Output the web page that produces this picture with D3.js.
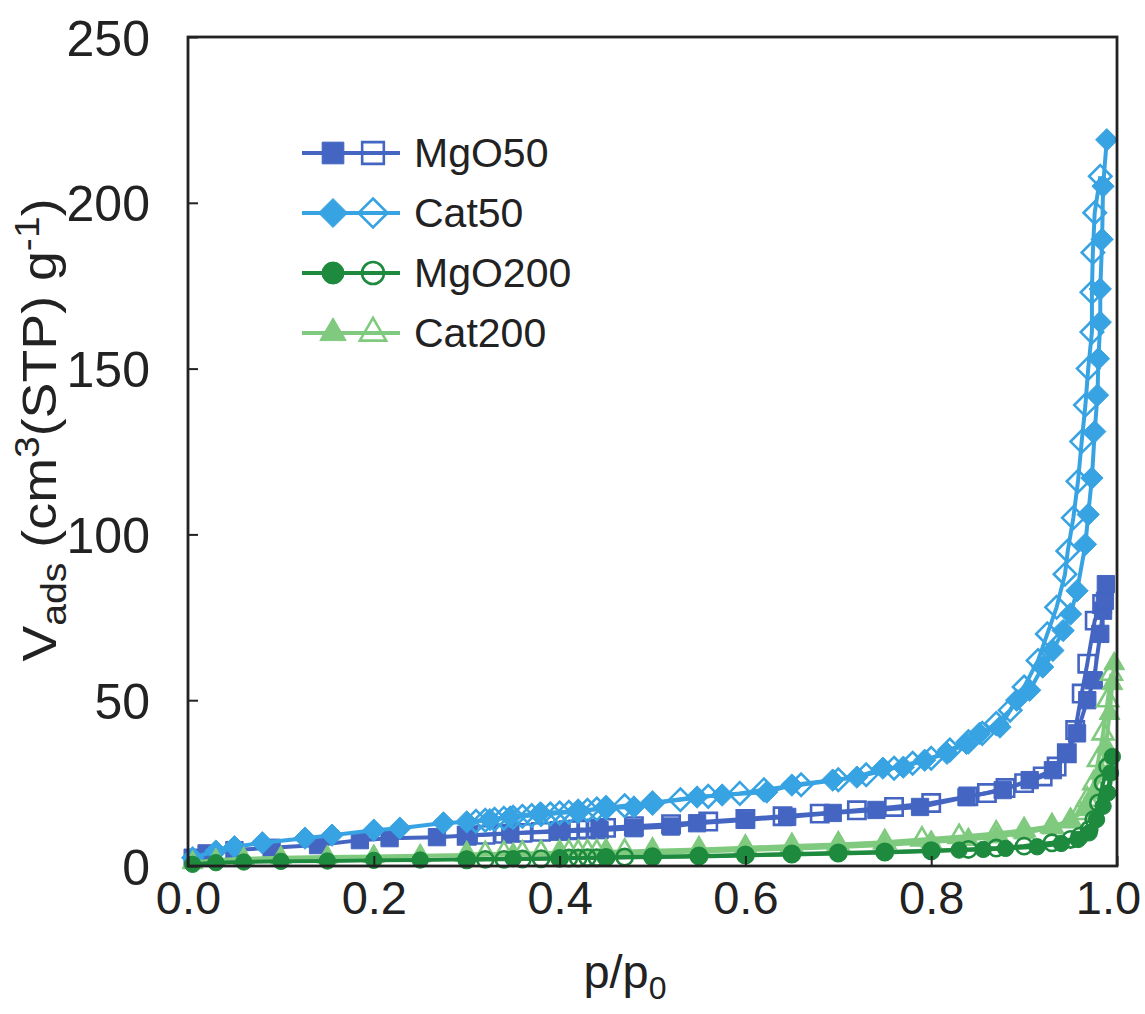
<!DOCTYPE html>
<html><head><meta charset="utf-8">
<script src="https://cdn.jsdelivr.net/npm/d3@7"></script>
<style>body{margin:0;background:#fff}svg{display:block}text{font-family:"Liberation Sans",Arial,sans-serif;fill:#222}</style>
</head><body>
<svg id="c" width="1145" height="1014"></svg>
<script>
// ---- data (p/p0, V_ads) ----
const xTicks = [0.0, 0.2, 0.4, 0.6, 0.8, 1.0];
const yTicks = [0, 50, 100, 150, 200, 250];
const seriesNames = ["MgO50", "Cat50", "MgO200", "Cat200"];

const mgo50Ads = [[0.005,2.5],[0.02,3.8],[0.05,4.8],[0.09,5.5],[0.14,6.3],[0.185,7.8],[0.217,8.4],[0.268,8.7],[0.3,9.2],[0.347,9.9],[0.4,10.4],[0.443,10.8],[0.48,11.4],[0.52,11.9],[0.548,12.9],[0.6,13.9],[0.645,14.8],[0.694,16],[0.741,16.9],[0.788,17.8],[0.838,20.8],[0.877,22.9],[0.906,25.9],[0.931,28.9],[0.946,34],[0.957,40],[0.968,50],[0.975,56],[0.982,70],[0.985,77],[0.987,80],[0.988,85]];
const mgo50Des = [[0.984,79],[0.976,74],[0.968,61],[0.962,52],[0.955,41],[0.946,34],[0.935,30],[0.92,27],[0.9,25],[0.88,23.5],[0.86,22],[0.84,21],[0.8,19],[0.76,17.8],[0.72,16.8],[0.68,15.8],[0.64,15],[0.6,14.2],[0.56,13.4],[0.52,12.6],[0.48,12],[0.45,11.5],[0.44,11.3],[0.43,11.1],[0.42,11],[0.41,10.8],[0.40,10.6],[0.38,10.3],[0.36,10],[0.34,9.7],[0.32,9.4],[0.30,9.1]];

const cat50Ads = [[0.005,2.5],[0.03,4.5],[0.05,5.8],[0.08,7.0],[0.126,8.4],[0.155,9.3],[0.2,10.8],[0.228,11.4],[0.275,13.0],[0.30,13.3],[0.325,14.0],[0.347,14.8],[0.379,16.0],[0.42,16.5],[0.45,17.5],[0.48,17.8],[0.5,19.0],[0.548,20.8],[0.575,21.4],[0.623,22.3],[0.65,24.4],[0.694,25.9],[0.72,26.8],[0.748,29.5],[0.77,29.8],[0.793,31.9],[0.817,34.0],[0.838,37.0],[0.852,40.0],[0.874,41.9],[0.892,50],[0.906,53],[0.92,60],[0.931,65],[0.942,71],[0.95,76],[0.957,83],[0.966,97],[0.969,106],[0.973,117],[0.976,131],[0.979,142],[0.980,153],[0.982,164],[0.982,174],[0.984,189],[0.985,205],[0.989,219]];
const cat50Des = [[0.982,208],[0.976,197],[0.974,185],[0.973,173],[0.973,161],[0.969,150],[0.966,139],[0.962,128],[0.958,116],[0.953,105],[0.947,95],[0.944,88],[0.935,78],[0.925,70],[0.915,62],[0.9,54],[0.885,47],[0.87,43],[0.855,40],[0.84,37.5],[0.82,35],[0.8,32.5],[0.78,31],[0.76,29.5],[0.73,27.5],[0.70,26],[0.66,24.5],[0.62,23],[0.594,21.9],[0.56,21],[0.53,20],[0.50,19],[0.47,18.2],[0.45,17.6],[0.44,17.2],[0.43,16.8],[0.42,16.5],[0.41,16.2],[0.40,16],[0.39,15.7],[0.38,15.5],[0.37,15.2],[0.36,15],[0.35,14.7],[0.34,14.4],[0.33,14.1],[0.32,13.8],[0.31,13.5]];

const mgo200Ads = [[0.005,0.5],[0.03,1.0],[0.06,1.2],[0.1,1.4],[0.15,1.5],[0.2,1.7],[0.25,1.8],[0.3,2.0],[0.35,2.2],[0.4,2.3],[0.45,2.5],[0.5,2.7],[0.55,2.9],[0.6,3.2],[0.65,3.5],[0.7,3.8],[0.75,4.1],[0.8,4.5],[0.83,4.8],[0.856,5.0],[0.88,5.3],[0.914,5.8],[0.94,6.8],[0.958,8],[0.97,10],[0.978,14],[0.985,18],[0.99,22],[0.993,28],[0.995,33]];
const mgo200Des = [[0.99,30],[0.985,25],[0.98,19],[0.975,14],[0.97,11],[0.96,9],[0.95,8],[0.93,7],[0.9,6],[0.87,5.4],[0.84,5],[0.8,4.6],[0.75,4.2],[0.7,3.9],[0.65,3.6],[0.6,3.3],[0.55,3.0],[0.5,2.8],[0.47,2.7],[0.45,2.6],[0.44,2.5],[0.43,2.5],[0.42,2.4],[0.41,2.4],[0.4,2.3],[0.38,2.2],[0.36,2.1],[0.34,2.0],[0.32,2.0],[0.3,1.9]];

const cat200Ads = [[0.005,1.0],[0.03,1.8],[0.06,2.2],[0.1,2.5],[0.15,2.7],[0.2,2.9],[0.25,3.1],[0.3,3.3],[0.35,3.5],[0.4,3.7],[0.45,3.8],[0.5,4.0],[0.55,4.4],[0.6,4.8],[0.65,5.2],[0.7,5.7],[0.75,6.3],[0.8,7.2],[0.84,8.0],[0.87,8.8],[0.9,10],[0.93,11.5],[0.95,14],[0.965,17],[0.975,22],[0.982,28],[0.988,36],[0.992,46],[0.995,55],[0.997,61]];
const cat200Des = [[0.994,58],[0.99,50],[0.985,40],[0.98,32],[0.975,25],[0.968,20],[0.96,16],[0.95,13.5],[0.93,12],[0.9,10.8],[0.87,9.8],[0.83,8.8],[0.79,8],[0.75,7.2],[0.7,6.5],[0.65,6],[0.6,5.5],[0.55,5],[0.5,4.6],[0.47,4.4],[0.45,4.3],[0.44,4.2],[0.43,4.2],[0.42,4.1],[0.41,4.1],[0.4,4.0],[0.38,3.9],[0.36,3.8],[0.34,3.7],[0.32,3.6],[0.3,3.5]];

// ---- layout ----
const svg = d3.select("#c");
const L = 188, R = 1117, T = 37, B = 866;
const x = d3.scaleLinear().domain([0, 1]).range([L, R]);
const y = d3.scaleLinear().domain([0, 250]).range([B, T]);

const diamond = {draw(ctx, size){ const h = Math.sqrt(size)/Math.SQRT2; ctx.moveTo(0,-h);ctx.lineTo(h,0);ctx.lineTo(0,h);ctx.lineTo(-h,0);ctx.closePath();}};
const styles = {
  MgO50: {color:"#4466c2", sym:d3.symbolSquare, size:300, lsize:470, ads:mgo50Ads, des:mgo50Des},
  Cat50: {color:"#38a3e2", sym:diamond, size:250, lsize:420, ads:cat50Ads, des:cat50Des},
  MgO200:{color:"#1d8a3d", sym:d3.symbolCircle, size:210, lsize:380, ads:mgo200Ads, des:mgo200Des},
  Cat200:{color:"#7fca7e", sym:d3.symbolTriangle, size:190, lsize:300, ads:cat200Ads, des:cat200Des}
};
const drawOrder = ["MgO50","Cat50","Cat200","MgO200"];
const line = d3.line().x(d=>x(d[0])).y(d=>y(d[1]));

const g = svg.append("g");
drawOrder.forEach(name=>{
  const s = styles[name];
  [["des",false],["ads",true]].forEach(([k,filled])=>{
    g.append("path").datum(s[k]).attr("d",line).attr("fill","none")
      .attr("stroke",s.color).attr("stroke-width",4).attr("stroke-linejoin","round");
    g.selectAll(null).data(s[k]).enter().append("path")
      .attr("transform",d=>`translate(${x(d[0])},${y(d[1])})`)
      .attr("d",d3.symbol().type(s.sym).size(s.size))
      .attr("fill",filled?s.color:"none")
      .attr("stroke",s.color).attr("stroke-width",filled?1:2.6);
  });
});

// frame
svg.append("rect").attr("x",L).attr("y",T).attr("width",R-L).attr("height",B-T)
  .attr("fill","none").attr("stroke","#222").attr("stroke-width",2.8);

// axes with inward ticks
const xa = svg.append("g").attr("transform",`translate(0,${B})`)
  .call(d3.axisBottom(x).tickValues(xTicks).tickFormat(d3.format(".1f")).tickSizeInner(-10).tickSizeOuter(0).tickPadding(14));
const ya = svg.append("g").attr("transform",`translate(${L},0)`)
  .call(d3.axisLeft(y).tickValues(yTicks).tickSizeInner(-10).tickSizeOuter(0).tickPadding(38));
[xa,ya].forEach(a=>{
  a.select(".domain").remove();
  a.selectAll("line").attr("stroke","#222").attr("stroke-width",2);
  a.selectAll("text").attr("fill","#222").style("font-family","'Liberation Sans',Arial,sans-serif");
});
ya.selectAll("text").attr("font-size",50).attr("dy","0.36em");
xa.selectAll("text").attr("font-size",47).attr("dy","0.72em").attr("dx",d=>d===1?-9:0);

// axis titles
const xt = svg.append("text").attr("x",625).attr("y",988).attr("text-anchor","middle").attr("font-size",47);
xt.append("tspan").text("p/p");
xt.append("tspan").text("0").attr("font-size",32).attr("dy",11);

const yt = svg.append("text").attr("transform",`translate(56,430) rotate(-90) scale(1.12,1)`).attr("text-anchor","middle").attr("font-size",48);
yt.append("tspan").text("V");
yt.append("tspan").text("ads").attr("font-size",35).attr("dy",10);
yt.append("tspan").text(" (cm").attr("dy",-10);
yt.append("tspan").text("3").attr("font-size",35).attr("dy",-17);
yt.append("tspan").text("(STP) g").attr("dy",17);
yt.append("tspan").text("-1").attr("font-size",35).attr("dy",-17);
yt.append("tspan").text(")").attr("dy",17);

// legend
const lg = svg.append("g");
seriesNames.forEach((name,i)=>{
  const s = styles[name];
  const cy = 153 + i*60;
  lg.append("line").attr("x1",302).attr("x2",400).attr("y1",cy).attr("y2",cy).attr("stroke",s.color).attr("stroke-width",4);
  lg.append("path").attr("transform",`translate(333,${cy})`).attr("d",d3.symbol().type(s.sym).size(s.lsize)).attr("fill",s.color).attr("stroke",s.color);
  lg.append("path").attr("transform",`translate(373,${cy})`).attr("d",d3.symbol().type(s.sym).size(s.lsize)).attr("fill","none").attr("stroke",s.color).attr("stroke-width",2.6);
  lg.append("text").attr("x",414).attr("y",cy+14).attr("font-size",41).text(name);
});
</script>
</body></html>
